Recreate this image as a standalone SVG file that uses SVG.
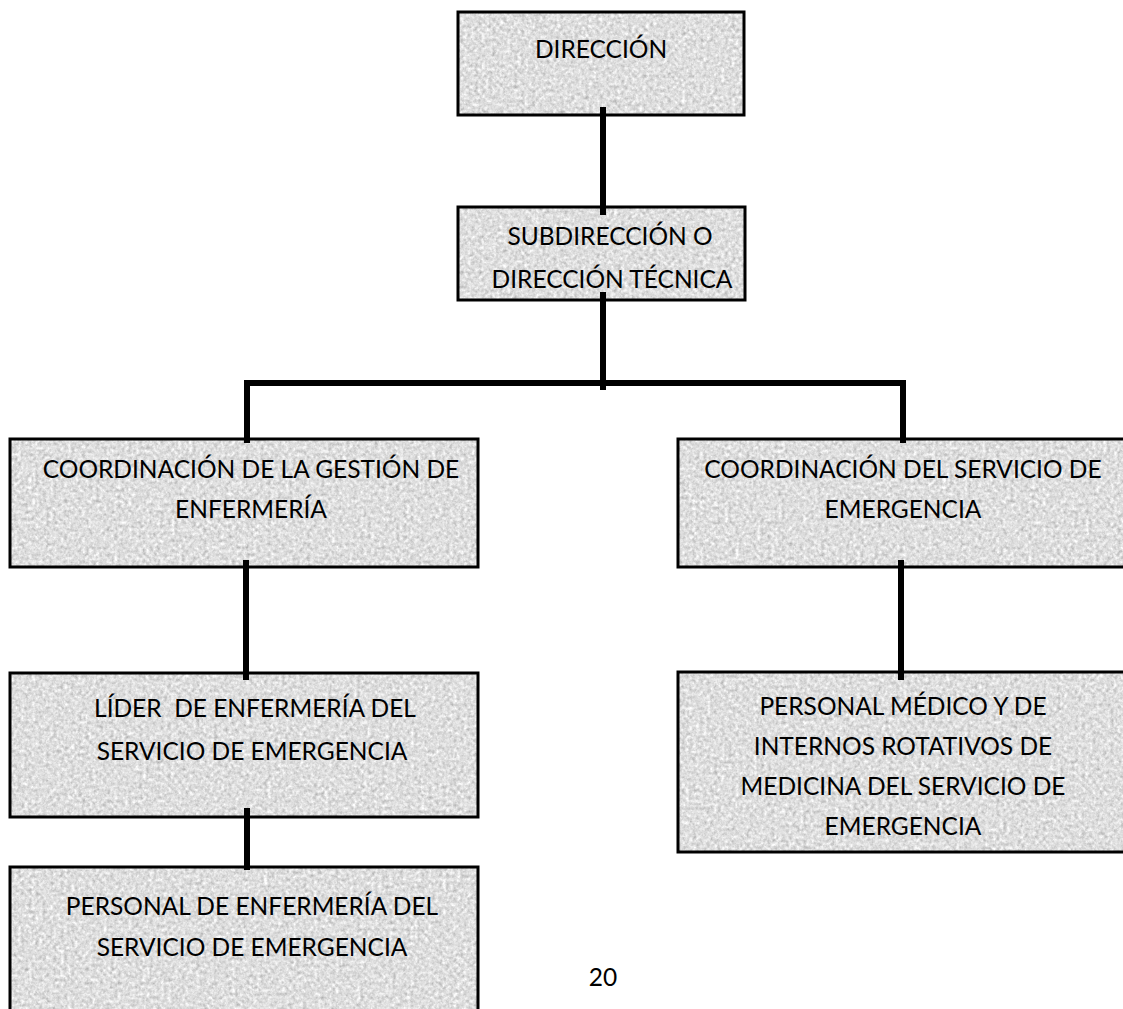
<svg xmlns="http://www.w3.org/2000/svg" width="1123" height="1009" viewBox="0 0 1123 1009">
  <defs>
    <!-- granite-like grey speckle used as box fill -->
    <filter id="granite" x="0" y="0" width="100%" height="100%" color-interpolation-filters="sRGB">
      <feTurbulence type="fractalNoise" baseFrequency="0.28" numOctaves="3" seed="7" result="noise"/>
      <feColorMatrix in="noise" type="matrix" values="0.27 0.27 0 0 0.6  0.27 0.27 0 0 0.6  0.27 0.27 0 0 0.6  0 0 0 0 1" result="grey"/>
      <feComposite in="grey" in2="SourceAlpha" operator="in"/>
    </filter>
    <style>
      .fill { fill: #dddddd; filter: url(#granite); }
      .frame { fill: none; stroke: #000; stroke-width: 3; }
      .label { font-family: Lato, "Liberation Sans", sans-serif; font-size: 24.5px; fill: #000; text-anchor: middle; white-space: pre; }
      .link { stroke: #000; stroke-width: 6; fill: none; }
    </style>
  </defs>

  <rect width="1123" height="1009" fill="#fff"/>

  <g id="direccion">
    <rect class="fill" x="458" y="12" width="286" height="103"/>
    <rect class="frame" x="458" y="12" width="286" height="103"/>
    <text class="label" x="601" y="58">DIRECCIÓN</text>
  </g>

  <g id="subdireccion">
    <rect class="fill" x="458" y="207" width="287" height="93"/>
    <rect class="frame" x="458" y="207" width="287" height="93"/>
    <text class="label" x="610" y="245">SUBDIRECCIÓN O</text>
    <text class="label" x="612" y="288">DIRECCIÓN TÉCNICA</text>
  </g>

  <g id="coord-enfermeria">
    <rect class="fill" x="10" y="439" width="468" height="128"/>
    <rect class="frame" x="10" y="439" width="468" height="128"/>
    <text class="label" x="251" y="478">COORDINACIÓN DE LA GESTIÓN DE</text>
    <text class="label" x="251" y="518">ENFERMERÍA</text>
  </g>

  <g id="coord-emergencia">
    <rect class="fill" x="678" y="439" width="445" height="128"/>
    <rect class="frame" x="678" y="439" width="447" height="128"/>
    <text class="label" x="903" y="478">COORDINACIÓN DEL SERVICIO DE</text>
    <text class="label" x="903" y="518">EMERGENCIA</text>
  </g>

  <g id="lider-enfermeria">
    <rect class="fill" x="10" y="673" width="468" height="144"/>
    <rect class="frame" x="10" y="673" width="468" height="144"/>
    <text class="label" x="255" y="717" xml:space="preserve">LÍDER  DE ENFERMERÍA DEL</text>
    <text class="label" x="252" y="760">SERVICIO DE EMERGENCIA</text>
  </g>

  <g id="personal-enfermeria">
    <rect class="fill" x="10" y="867" width="468" height="150"/>
    <rect class="frame" x="10" y="867" width="468" height="150"/>
    <text class="label" x="252" y="915">PERSONAL DE ENFERMERÍA DEL</text>
    <text class="label" x="252" y="956">SERVICIO DE EMERGENCIA</text>
  </g>

  <g id="personal-medico">
    <rect class="fill" x="678" y="672" width="445" height="180"/>
    <rect class="frame" x="678" y="672" width="447" height="180"/>
    <text class="label" x="903" y="715">PERSONAL MÉDICO Y DE</text>
    <text class="label" x="903" y="755">INTERNOS ROTATIVOS DE</text>
    <text class="label" x="903" y="795">MEDICINA DEL SERVICIO DE</text>
    <text class="label" x="903" y="835">EMERGENCIA</text>
  </g>

  <!-- connectors sit on top of the boxes, so their ends show a short stub inside each box -->
  <g id="connectors">
    <line class="link" x1="603" y1="107" x2="603" y2="215"/>
    <line class="link" x1="603" y1="292" x2="603" y2="390"/>
    <polyline class="link" points="247,443 247,383 903,383 903,443"/>
    <line class="link" x1="246" y1="560" x2="246" y2="680"/>
    <line class="link" x1="247" y1="808" x2="247" y2="870"/>
    <line class="link" x1="901" y1="560" x2="901" y2="680"/>
  </g>

  <text id="page-number" class="label" x="603" y="986">20</text>
</svg>
